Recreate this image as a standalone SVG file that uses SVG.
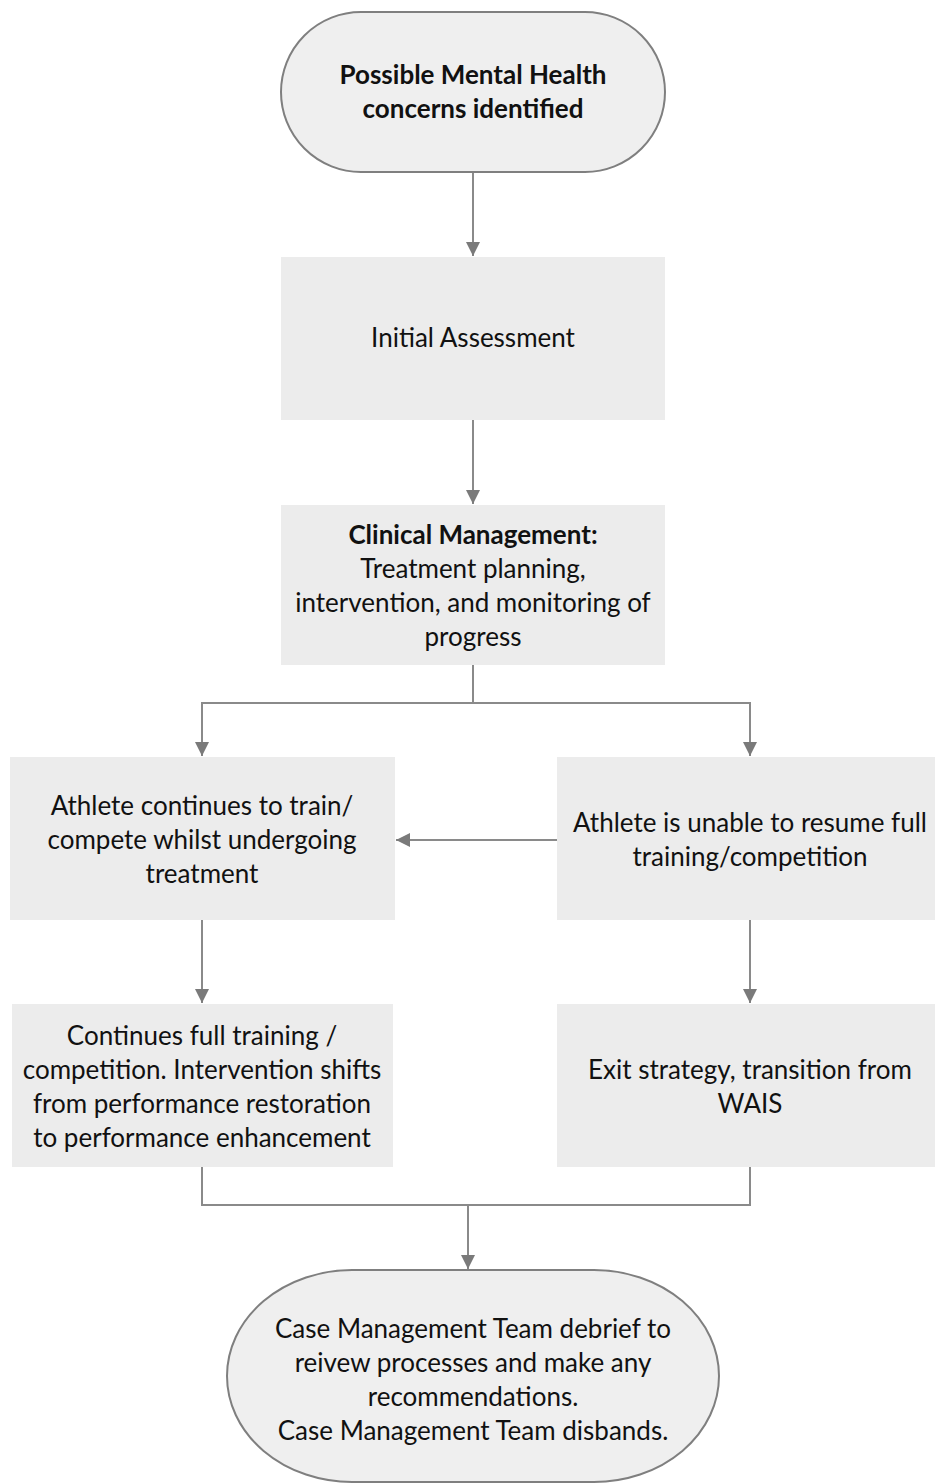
<svg xmlns="http://www.w3.org/2000/svg" width="935" height="1484" viewBox="0 0 935 1484">
<style>
.box{fill:#ececec;}
.term{fill:#efefef;stroke:#7f7f7f;stroke-width:2;}
.t{font-family:Lato,"Open Sans",sans-serif;font-size:26px;fill:#111;text-anchor:middle;}
.b{font-weight:bold;}
.c{fill:none;stroke:#8a8a8a;stroke-width:2;}
</style>
<defs>
<marker id="ah" markerWidth="14" markerHeight="14" refX="14" refY="7" orient="auto" markerUnits="userSpaceOnUse">
<path d="M0,0 L14,7 L0,14 Z" fill="#7a7a7a"/>
</marker>
</defs>
<g id="connectors">
<path class="c" d="M473,172 V256" marker-end="url(#ah)"/>
<path class="c" d="M473,420 V504" marker-end="url(#ah)"/>
<path class="c" d="M473,665 V703 H202 V756" marker-end="url(#ah)"/>
<path class="c" d="M473,703 H750 V756" marker-end="url(#ah)"/>
<path class="c" d="M557,840 H396" marker-end="url(#ah)"/>
<path class="c" d="M202,920 V1003" marker-end="url(#ah)"/>
<path class="c" d="M750,920 V1003" marker-end="url(#ah)"/>
<path class="c" d="M202,1167 V1205 H750 V1167"/>
<path class="c" d="M468,1205 V1269" marker-end="url(#ah)"/>
</g>
<g id="start">
<rect class="term" x="281" y="12" width="384" height="160" rx="80" ry="80"/>
<text class="t b" x="473" y="84">Possible Mental Health</text>
<text class="t b" x="473" y="118">concerns identified</text>
</g>
<g id="initial">
<rect class="box" x="281" y="257" width="384" height="163"/>
<text class="t" x="473" y="347">Initial Assessment</text>
</g>
<g id="clinical">
<rect class="box" x="281" y="505" width="384" height="160"/>
<text class="t b" x="473" y="544">Clinical Management:</text>
<text class="t" x="473" y="578">Treatment planning,</text>
<text class="t" x="473" y="612">intervention, and monitoring of</text>
<text class="t" x="473" y="646">progress</text>
</g>
<g id="continues">
<rect class="box" x="10" y="757" width="385" height="163"/>
<text class="t" x="202" y="815">Athlete continues to train/</text>
<text class="t" x="202" y="849">compete whilst undergoing</text>
<text class="t" x="202" y="883">treatment</text>
</g>
<g id="unable">
<rect class="box" x="557" y="757" width="378" height="163"/>
<text class="t" x="750" y="832">Athlete is unable to resume full</text>
<text class="t" x="750" y="866">training/competition</text>
</g>
<g id="fulltraining">
<rect class="box" x="12" y="1004" width="381" height="163"/>
<text class="t" x="202" y="1045">Continues full training /</text>
<text class="t" x="202" y="1079">competition. Intervention shifts</text>
<text class="t" x="202" y="1113">from performance restoration</text>
<text class="t" x="202" y="1147">to performance enhancement</text>
</g>
<g id="exit">
<rect class="box" x="557" y="1004" width="378" height="163"/>
<text class="t" x="750" y="1079">Exit strategy, transition from</text>
<text class="t" x="750" y="1113">WAIS</text>
</g>
<g id="end">
<rect class="term" x="227" y="1270" width="492" height="212" rx="125" ry="106"/>
<text class="t" x="473" y="1338">Case Management Team debrief to</text>
<text class="t" x="473" y="1372">reivew processes and make any</text>
<text class="t" x="473" y="1406">recommendations.</text>
<text class="t" x="473" y="1440">Case Management Team disbands.</text>
</g>
</svg>
